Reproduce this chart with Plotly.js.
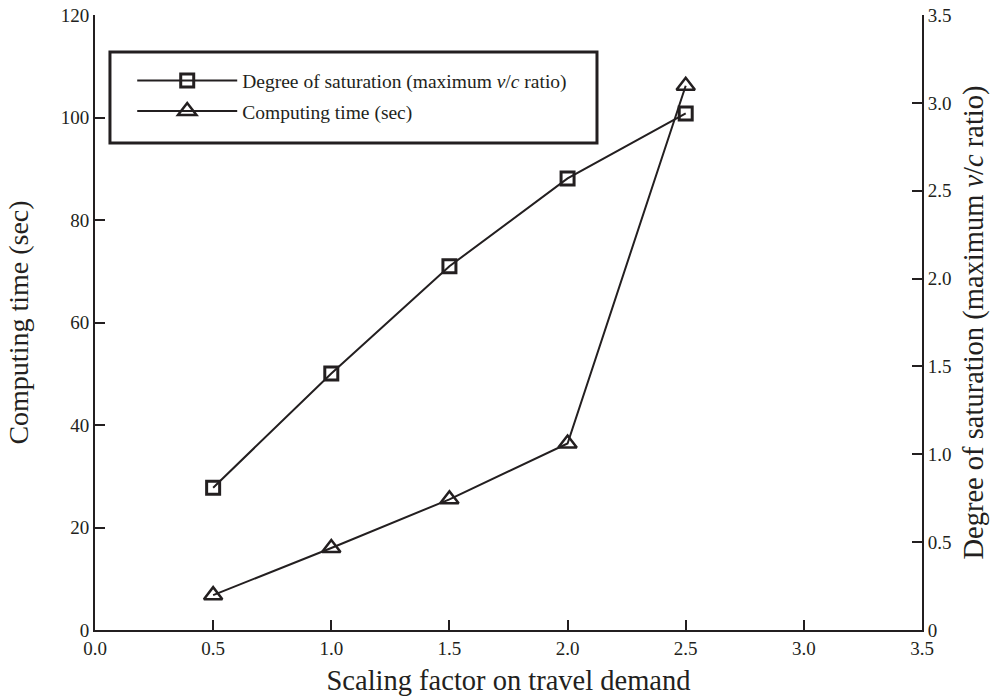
<!DOCTYPE html>
<html>
<head>
<meta charset="utf-8">
<script src="https://cdn.plot.ly/plotly-3.0.1.min.js"></script>
<style>body{margin:0;padding:0;background:#fff;}#chart{width:990px;height:696px;}</style>
</head>
<body>
<div id="chart"></div>
<script>
const scalingFactor = [0.5, 1.0, 1.5, 2.0, 2.5];
const saturation = [0.81, 1.46, 2.07, 2.57, 2.94];
const computingTime = [6.8, 16.0, 25.5, 36.4, 106.2];

const xTickVals = [0, 0.5, 1.0, 1.5, 2.0, 2.5, 3.0, 3.5];
const xTickText = ['0.0', '0.5', '1.0', '1.5', '2.0', '2.5', '3.0', '3.5'];
const yTickVals = [0, 20, 40, 60, 80, 100, 120];
const yTickText = ['0', '20', '40', '60', '80', '100', '120'];
const y2TickVals = [0, 0.5, 1.0, 1.5, 2.0, 2.5, 3.0, 3.5];
const y2TickText = ['0', '0.5', '1.0', '1.5', '2.0', '2.5', '3.0', '3.5'];

const ink = '#231f20';
const serif = '"Liberation Serif"';

const traces = [
  {
    x: scalingFactor, y: saturation, yaxis: 'y2', type: 'scatter', mode: 'lines+markers',
    name: 'Degree of saturation (maximum <i>v</i>/<i>c</i> ratio)',
    legendgroup: 'a',
    line: {color: ink, width: 2},
    marker: {symbol: 'square-open', size: 13, color: ink, line: {width: 3, color: ink}}
  },
  {
    x: scalingFactor, y: computingTime, yaxis: 'y', type: 'scatter', mode: 'lines+markers',
    name: 'Computing time (sec)',
    legendgroup: 'b',
    line: {color: ink, width: 2},
    marker: {symbol: 'triangle-up-open', size: 16, color: ink, line: {width: 2.5, color: ink}}
  }
];

const axisCommon = {
  showgrid: false, zeroline: false, showline: true, linecolor: ink, linewidth: 2,
  ticks: 'inside', ticklen: 10, tickwidth: 2, tickcolor: ink,
  tickfont: {family: serif, size: 19, color: ink}, tickmode: 'array'
};

const layout = {
  width: 990, height: 696,
  margin: {l: 95, r: 68, t: 15, b: 66},
  paper_bgcolor: '#fff', plot_bgcolor: '#fff',
  font: {family: serif, color: ink},
  showlegend: true,
  legend: {
    x: 0.045, y: 0.9245, xanchor: 'left', yanchor: 'top',
    bgcolor: 'rgba(0,0,0,0)', borderwidth: 0,
    font: {family: serif, size: 19.5, color: ink},
    tracegroupgap: 2, itemwidth: 100
  },
  xaxis: Object.assign({}, axisCommon, {
    range: [0, 3.5], tickvals: xTickVals, ticktext: xTickText,
    title: {text: 'Scaling factor on travel demand', font: {family: serif, size: 28.5, color: ink}, standoff: 13}
  }),
  yaxis: Object.assign({}, axisCommon, {
    range: [0, 120], tickvals: yTickVals, ticktext: yTickText,
    title: {text: 'Computing time (sec)', font: {family: serif, size: 28, color: ink}, standoff: 24}
  }),
  yaxis2: Object.assign({}, axisCommon, {
    range: [0, 3.5], tickvals: y2TickVals, ticktext: y2TickText,
    overlaying: 'y', side: 'right',
    title: {text: 'Degree of saturation (maximum <i>v</i>/<i>c</i> ratio)', font: {family: serif, size: 28.5, color: ink}, standoff: 14}
  }),
  shapes: [
    {type: 'rect', xref: 'paper', yref: 'paper', x0: 0.0181, x1: 0.607, y0: 0.792, y1: 0.94,
     line: {color: ink, width: 3}, fillcolor: 'rgba(0,0,0,0)'}
  ]
};

Plotly.newPlot('chart', traces, layout, {displayModeBar: false, staticPlot: true});
</script>
</body>
</html>
